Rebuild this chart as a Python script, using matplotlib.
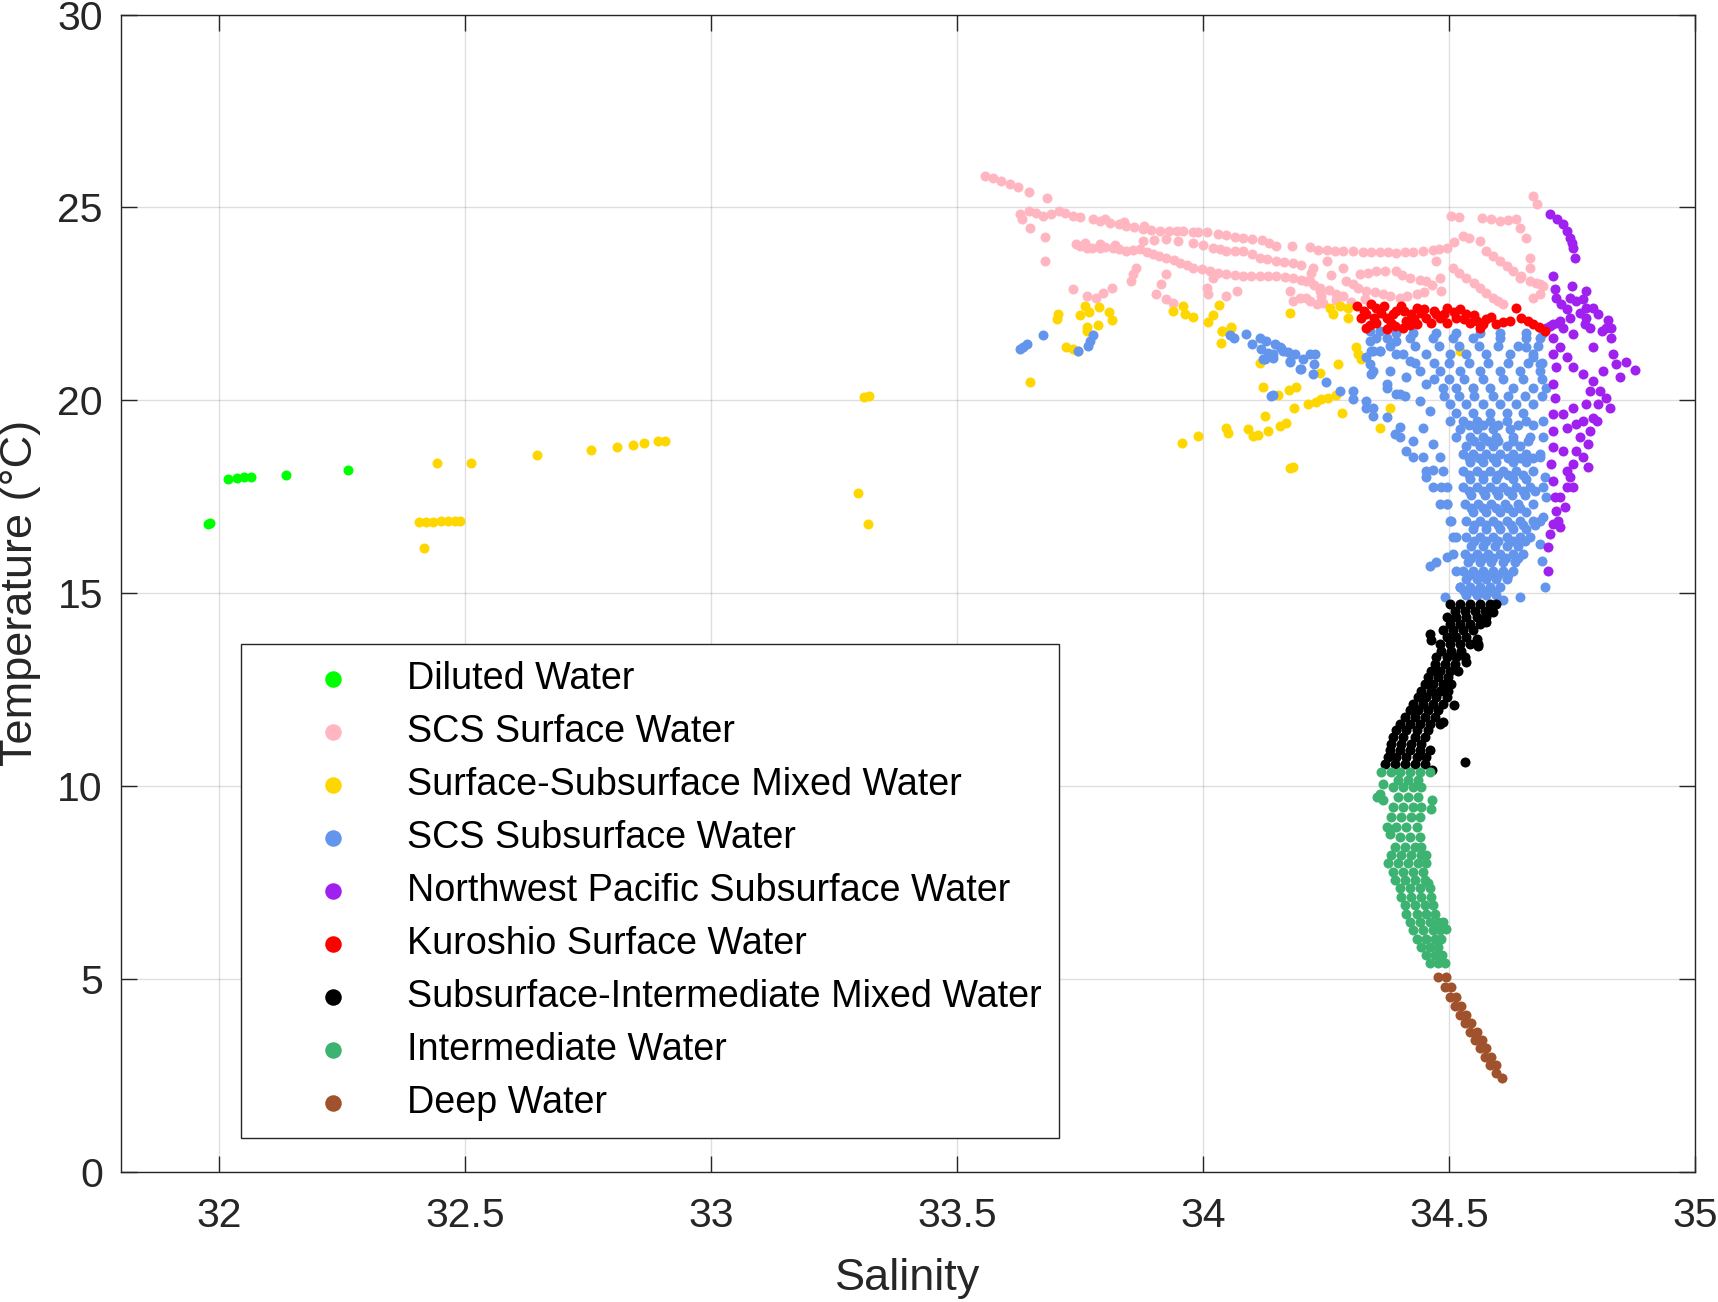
import numpy as np
import matplotlib
matplotlib.use("Agg")
import matplotlib.pyplot as plt

plt.rcParams['font.family'] = ['Liberation Sans', 'DejaVu Sans']

# (salinity, temperature), one list per water mass
diluted = [(31.977, 16.80), (31.982, 16.82), (32.017, 17.97), (32.036, 17.99),
           (32.050, 18.01), (32.064, 18.02), (32.136, 18.07), (32.261, 18.20)]

scs_surface = [
    (33.556, 25.81), (33.573, 25.75), (33.590, 25.68), (33.607, 25.60), (33.624, 25.53),
    (33.646, 25.41), (33.683, 25.25),
    (33.627, 24.82), (33.647, 24.91), (33.675, 24.78), (33.708, 24.91), (33.736, 24.78),
    (33.776, 24.69), (33.810, 24.60), (33.844, 24.52), (33.878, 24.43), (33.912, 24.39),
    (33.946, 24.39), (33.980, 24.37), (34.007, 24.35), (34.047, 24.28), (34.081, 24.20),
    (34.119, 24.15), (34.149, 24.00), (34.217, 23.97),
    (33.660, 24.85), (33.690, 24.84), (33.720, 24.85), (33.750, 24.74), (33.790, 24.66),
    (33.830, 24.56), (33.860, 24.48), (33.895, 24.41), (33.930, 24.40), (33.960, 24.38),
    (33.990, 24.36), (34.030, 24.31), (34.065, 24.24), (34.100, 24.18), (34.135, 24.08),
    (34.180, 24.00), (33.800, 24.70), (33.840, 24.62), (33.880, 24.52),
    (33.631, 24.69), (33.649, 24.47), (33.679, 24.22), (33.679, 23.61),
    (33.742, 24.04), (33.763, 23.96), (33.790, 23.94), (33.817, 23.96), (33.844, 23.87),
    (33.871, 23.91), (33.898, 23.78), (33.925, 23.70), (33.953, 23.57), (33.980, 23.44),
    (34.014, 23.35), (34.047, 23.27), (34.081, 23.22), (34.115, 23.22), (34.149, 23.22),
    (34.183, 23.18), (34.217, 23.09), (34.237, 22.83),
    (33.750, 24.00), (33.775, 23.95), (33.800, 23.97), (33.830, 23.92), (33.857, 23.89),
    (33.885, 23.84), (33.910, 23.74), (33.940, 23.63), (33.967, 23.50), (33.997, 23.40),
    (34.030, 23.31), (34.064, 23.25), (34.098, 23.22), (34.132, 23.22), (34.166, 23.20),
    (34.200, 23.13), (33.760, 24.08), (33.790, 24.05), (33.820, 24.02),
    (33.878, 24.13), (33.925, 24.17), (33.980, 24.09), (34.020, 23.96), (34.047, 23.87),
    (34.081, 23.87), (34.115, 23.70), (34.149, 23.61), (34.183, 23.57), (34.224, 23.44),
    (33.900, 24.15), (33.950, 24.13), (34.000, 24.03), (34.035, 23.92), (34.064, 23.87),
    (34.100, 23.78), (34.130, 23.66), (34.165, 23.59), (34.200, 23.50),
    (33.925, 23.27), (33.915, 23.01), (33.905, 22.75), (33.925, 22.62), (33.939, 22.53),
    (33.864, 23.44), (33.858, 23.27), (33.854, 23.08),
    (33.736, 22.88), (33.763, 22.71), (33.783, 22.66), (33.797, 22.79), (33.814, 22.92),
    (34.007, 22.92), (34.010, 22.75), (34.047, 22.71), (34.068, 22.83), (34.020, 23.18),
    (34.176, 22.83), (34.197, 22.66), (34.217, 22.58), (34.231, 22.49), (34.183, 22.58),
    (34.251, 23.89), (34.284, 23.87), (34.325, 23.85), (34.359, 23.85), (34.393, 23.83),
    (34.427, 23.85), (34.467, 23.89), (34.495, 23.96), (34.528, 24.26), (34.562, 24.13),
    (34.234, 23.90), (34.268, 23.88), (34.305, 23.86), (34.342, 23.85), (34.376, 23.84),
    (34.410, 23.84), (34.447, 23.87), (34.480, 23.92), (34.540, 24.20), (34.510, 24.10),
    (34.505, 24.77), (34.566, 24.73), (34.603, 24.66), (34.637, 24.69), (34.644, 24.47),
    (34.520, 24.75), (34.585, 24.70), (34.620, 24.68),
    (34.657, 24.21), (34.664, 23.70), (34.664, 23.44), (34.671, 25.29), (34.678, 25.08),
    (34.576, 23.87), (34.603, 23.61), (34.630, 23.35), (34.664, 23.09), (34.691, 22.96),
    (34.590, 23.74), (34.617, 23.48), (34.647, 23.22), (34.677, 23.03),
    (34.508, 23.44), (34.535, 23.18), (34.562, 22.92), (34.589, 22.66), (34.610, 22.49),
    (34.520, 23.31), (34.550, 23.05), (34.575, 22.79), (34.600, 22.57),
    (34.481, 23.18), (34.484, 22.83),
    (34.251, 23.61), (34.284, 23.44), (34.318, 23.27), (34.352, 23.35), (34.393, 23.35),
    (34.420, 23.18), (34.454, 23.09), (34.474, 23.61),
    (34.210, 23.09), (34.237, 22.92), (34.271, 22.75), (34.305, 23.01), (34.332, 22.83),
    (34.366, 22.75), (34.400, 22.66), (34.434, 22.75), (34.210, 22.66), (34.244, 22.53),
    (34.225, 23.00), (34.255, 22.85), (34.285, 22.70), (34.315, 22.92), (34.350, 22.80),
    (34.380, 22.70), (34.415, 22.70), (34.450, 22.80), (34.290, 23.10), (34.335, 23.30),
    (34.370, 23.35), (34.405, 23.25), (34.440, 23.12), (34.465, 23.00), (34.240, 22.70),
    (34.270, 22.60), (34.300, 22.55), (34.330, 22.62), (34.220, 23.30), (34.260, 23.25),
    (34.644, 23.18), (34.684, 23.01), (34.671, 22.66), (34.684, 22.75)]

mixed_surface = [
    (32.405, 16.84), (32.420, 16.85), (32.435, 16.85), (32.450, 16.86), (32.465, 16.86),
    (32.480, 16.87), (32.489, 16.87), (32.417, 16.17), (32.442, 18.38), (32.512, 18.38),
    (32.646, 18.59), (32.756, 18.72), (32.809, 18.79), (32.840, 18.83), (32.864, 18.88),
    (32.891, 18.93), (32.907, 18.94), (33.310, 20.08), (33.320, 20.12), (33.299, 17.60),
    (33.318, 16.80),
    (34.257, 22.40), (34.278, 22.45), (34.295, 22.40), (34.264, 22.23), (34.295, 22.14),
    (33.705, 22.23), (33.702, 22.10), (33.749, 22.21), (33.759, 22.45), (33.769, 22.30),
    (33.788, 22.43), (33.808, 22.30), (33.814, 22.08), (33.786, 21.95), (33.763, 21.89),
    (33.763, 21.80), (33.939, 22.32), (33.959, 22.45), (33.963, 22.23), (33.980, 22.16),
    (34.010, 22.02), (34.020, 22.21), (34.033, 22.47), (34.176, 22.27), (34.039, 21.80),
    (34.056, 21.89),
    (33.721, 21.38), (33.736, 21.32), (33.746, 21.28), (33.649, 20.48), (33.958, 18.90),
    (33.990, 19.06), (34.047, 19.29), (34.051, 19.14), (34.092, 19.26), (34.102, 19.07),
    (34.112, 19.10), (34.131, 19.19), (34.156, 19.34), (34.169, 19.40), (34.125, 19.58),
    (34.185, 19.80), (34.214, 19.90), (34.229, 19.96), (34.174, 20.27), (34.188, 20.35),
    (34.122, 20.34), (34.153, 20.13), (34.115, 20.97), (34.037, 21.48), (34.039, 21.79),
    (34.056, 21.88), (34.176, 18.24), (34.183, 18.26),
    (34.311, 21.37), (34.315, 21.20), (34.322, 21.07), (34.274, 20.94), (34.237, 20.70),
    (34.271, 20.14), (34.254, 20.07), (34.240, 20.03), (34.282, 19.67), (34.359, 19.28),
    (34.379, 19.81), (34.522, 21.28), (34.549, 20.33)]

scs_subsurface = [
    (33.627, 21.32), (33.634, 21.38), (33.641, 21.45), (33.674, 21.68), (33.746, 21.28),
    (33.766, 21.41), (33.771, 21.54), (33.776, 21.68),
    (34.054, 21.68), (34.063, 21.62), (34.088, 21.73), (34.099, 21.45), (34.115, 21.62),
    (34.127, 21.54), (34.117, 21.32), (34.132, 21.23), (34.146, 21.45), (34.159, 21.36),
    (34.173, 21.26), (34.186, 21.19), (34.176, 20.98), (34.125, 21.06), (34.142, 21.10),
    (34.203, 21.06), (34.217, 21.19), (34.227, 21.21), (34.200, 20.82), (34.225, 20.95),
    (34.139, 20.11), (34.142, 20.14), (34.122, 21.07), (34.142, 21.20), (34.162, 21.28),
    (34.176, 21.02), (34.156, 21.37),
    (34.196, 20.81), (34.223, 20.68), (34.250, 20.46), (34.278, 20.25), (34.305, 20.03),
    (34.332, 19.81), (34.346, 19.60), (34.305, 20.25), (34.332, 19.99), (34.346, 19.81),
    (34.373, 19.56), (34.400, 19.30), (34.427, 18.95), (34.447, 18.52), (34.468, 18.18),
    (34.484, 17.74), (34.495, 17.31), (34.505, 16.88), (34.515, 16.45),
    (34.390, 19.12), (34.413, 18.69), (34.454, 18.00),
    (34.339, 21.54), (34.346, 21.28), (34.339, 20.94), (34.342, 20.68), (34.359, 21.28),
    (34.393, 21.54), (34.373, 20.42), (34.393, 20.16), (34.410, 20.12),
    (34.332, 21.11), (34.345, 20.76), (34.359, 21.28), (34.379, 20.76), (34.373, 20.33),
    (34.400, 20.16), (34.413, 20.59), (34.393, 21.19), (34.420, 21.02), (34.440, 20.76),
    (34.454, 20.42), (34.440, 19.99), (34.461, 19.73), (34.447, 19.29), (34.467, 18.86),
    (34.481, 18.52), (34.488, 18.17), (34.495, 17.74), (34.495, 17.31), (34.501, 16.88),
    (34.508, 16.45), (34.508, 16.02), (34.515, 15.58), (34.522, 15.15),
    (34.400, 19.04), (34.427, 18.52), (34.454, 18.17), (34.467, 17.74), (34.481, 17.31),
    (34.461, 15.71), (34.474, 15.80), (34.495, 15.93), (34.491, 14.89),
    (34.339, 21.80), (34.352, 21.62), (34.342, 21.28), (34.359, 21.80), (34.393, 21.75),
    (34.427, 21.75), (34.474, 21.75), (34.515, 21.75), (34.562, 21.75), (34.603, 21.75),
    (34.657, 21.75), (34.691, 21.75), (34.657, 21.37), (34.671, 21.11), (34.684, 20.93),
    (34.691, 19.04), (34.684, 18.52), (34.695, 18.00), (34.698, 17.48), (34.691, 16.97),
    (34.373, 21.62), (34.420, 21.62), (34.467, 21.62), (34.508, 21.62), (34.549, 21.62),
    (34.603, 21.62), (34.657, 21.62), (34.684, 21.62),
    (34.380, 21.40), (34.430, 21.40), (34.480, 21.40), (34.520, 21.40), (34.560, 21.40),
    (34.600, 21.40), (34.640, 21.40), (34.680, 21.40),
    (34.406, 21.19), (34.454, 21.19), (34.501, 21.19), (34.535, 21.19), (34.576, 21.19),
    (34.623, 21.19), (34.671, 21.19),
    (34.430, 20.97), (34.470, 20.97), (34.500, 20.97), (34.540, 20.97), (34.580, 20.97),
    (34.620, 20.97), (34.660, 20.97), (34.690, 20.97),
    (34.481, 20.76), (34.522, 20.76), (34.562, 20.76), (34.603, 20.76), (34.644, 20.76),
    (34.684, 20.76),
    (34.470, 20.55), (34.500, 20.55), (34.530, 20.55), (34.570, 20.55), (34.610, 20.55),
    (34.650, 20.55), (34.690, 20.55),
    (34.488, 20.33), (34.515, 20.33), (34.549, 20.33), (34.583, 20.33), (34.630, 20.33),
    (34.671, 20.33), (34.698, 20.33),
    (34.490, 20.12), (34.520, 20.12), (34.550, 20.12), (34.590, 20.12), (34.620, 20.12),
    (34.655, 20.12), (34.690, 20.12),
    (34.501, 19.90), (34.535, 19.90), (34.569, 19.90), (34.603, 19.90), (34.637, 19.90),
    (34.671, 19.90),
    (34.515, 19.68), (34.549, 19.68), (34.583, 19.68), (34.617, 19.68), (34.651, 19.68),
    (34.501, 19.47), (34.528, 19.47), (34.556, 19.47), (34.583, 19.47), (34.617, 19.47),
    (34.657, 19.47), (34.691, 19.47),
    (34.540, 19.36), (34.570, 19.36), (34.600, 19.36), (34.640, 19.36), (34.670, 19.36),
    (34.522, 19.25), (34.556, 19.25), (34.589, 19.25), (34.623, 19.25),
    (34.515, 19.04), (34.542, 19.04), (34.569, 19.04), (34.596, 19.04), (34.630, 19.04),
    (34.664, 19.04),
    (34.550, 18.93), (34.580, 18.93), (34.600, 18.93), (34.630, 18.93), (34.660, 18.93),
    (34.535, 18.82), (34.562, 18.82), (34.589, 18.82), (34.617, 18.82), (34.644, 18.82),
    (34.528, 18.60), (34.549, 18.60), (34.576, 18.60), (34.603, 18.60), (34.630, 18.60),
    (34.657, 18.60), (34.684, 18.60),
    (34.540, 18.50), (34.560, 18.50), (34.590, 18.50), (34.620, 18.50), (34.645, 18.50),
    (34.670, 18.50),
    (34.542, 18.39), (34.569, 18.39), (34.596, 18.39), (34.630, 18.39), (34.657, 18.39),
    (34.528, 18.17), (34.556, 18.17), (34.583, 18.17), (34.610, 18.17), (34.637, 18.17),
    (34.671, 18.17),
    (34.540, 18.07), (34.570, 18.07), (34.600, 18.07), (34.620, 18.07), (34.650, 18.07),
    (34.542, 17.96), (34.569, 17.96), (34.596, 17.96), (34.630, 17.96), (34.657, 17.96),
    (34.528, 17.74), (34.556, 17.74), (34.583, 17.74), (34.610, 17.74), (34.637, 17.74),
    (34.664, 17.74), (34.691, 17.74),
    (34.540, 17.64), (34.570, 17.64), (34.595, 17.64), (34.620, 17.64), (34.650, 17.64),
    (34.675, 17.64),
    (34.545, 17.53), (34.573, 17.53), (34.600, 17.53), (34.627, 17.53), (34.654, 17.53),
    (34.532, 17.31), (34.559, 17.31), (34.586, 17.31), (34.613, 17.31), (34.640, 17.31),
    (34.671, 17.31),
    (34.545, 17.20), (34.570, 17.20), (34.595, 17.20), (34.620, 17.20), (34.645, 17.20),
    (34.549, 17.09), (34.576, 17.09), (34.603, 17.09), (34.630, 17.09), (34.657, 17.09),
    (34.535, 16.88), (34.562, 16.88), (34.589, 16.88), (34.617, 16.88), (34.644, 16.88),
    (34.671, 16.88), (34.684, 16.88),
    (34.550, 16.77), (34.575, 16.77), (34.600, 16.77), (34.625, 16.77), (34.650, 16.77),
    (34.675, 16.77),
    (34.549, 16.66), (34.576, 16.66), (34.603, 16.66), (34.630, 16.66), (34.657, 16.66),
    (34.535, 16.45), (34.562, 16.45), (34.589, 16.45), (34.617, 16.45), (34.644, 16.45),
    (34.664, 16.45),
    (34.550, 16.34), (34.575, 16.34), (34.600, 16.34), (34.630, 16.34), (34.655, 16.34),
    (34.545, 16.23), (34.569, 16.23), (34.593, 16.23), (34.617, 16.23), (34.640, 16.23),
    (34.532, 16.02), (34.556, 16.02), (34.579, 16.02), (34.603, 16.02), (34.630, 16.02),
    (34.651, 16.02),
    (34.545, 15.91), (34.570, 15.91), (34.590, 15.91), (34.615, 15.91), (34.640, 15.91),
    (34.539, 15.80), (34.562, 15.80), (34.586, 15.80), (34.610, 15.80), (34.634, 15.80),
    (34.528, 15.58), (34.549, 15.58), (34.569, 15.58), (34.589, 15.58), (34.610, 15.58),
    (34.630, 15.58),
    (34.540, 15.48), (34.560, 15.48), (34.580, 15.48), (34.600, 15.48), (34.620, 15.48),
    (34.535, 15.37), (34.556, 15.37), (34.576, 15.37), (34.596, 15.37), (34.617, 15.37),
    (34.522, 15.15), (34.542, 15.15), (34.562, 15.15), (34.583, 15.15), (34.603, 15.15),
    (34.530, 15.05), (34.550, 15.05), (34.570, 15.05), (34.590, 15.05),
    (34.535, 14.94), (34.556, 14.94), (34.576, 14.94), (34.596, 14.94),
    (34.688, 15.84), (34.695, 15.15), (34.644, 14.89), (34.610, 14.81), (34.684, 16.28)]

nw_pacific = [
    (34.706, 24.84), (34.720, 24.69), (34.732, 24.56), (34.739, 24.39), (34.745, 24.21),
    (34.749, 24.09), (34.752, 23.96), (34.756, 23.68), (34.712, 23.22),
    (34.715, 22.88), (34.718, 22.66), (34.728, 22.49), (34.739, 22.36),
    (34.749, 22.96), (34.745, 22.66), (34.759, 22.57), (34.773, 22.62), (34.779, 22.83),
    (34.793, 22.40), (34.803, 22.23), (34.823, 22.07), (34.830, 21.88),
    (34.705, 21.93), (34.722, 22.01), (34.732, 21.88), (34.745, 22.14), (34.766, 22.27),
    (34.779, 22.14), (34.786, 21.88), (34.810, 21.80), (34.752, 21.71),
    (34.698, 21.88), (34.712, 21.97), (34.725, 22.06),
    (34.712, 21.62), (34.725, 21.37), (34.739, 21.11), (34.752, 20.85), (34.773, 20.67),
    (34.793, 20.50),
    (34.712, 21.19), (34.718, 20.85), (34.712, 20.42), (34.715, 20.07), (34.712, 19.64),
    (34.712, 19.21), (34.712, 18.78), (34.708, 18.35), (34.712, 17.91), (34.715, 17.48),
    (34.718, 17.14), (34.712, 16.79), (34.705, 16.53), (34.701, 16.19),
    (34.732, 19.64), (34.739, 19.29), (34.752, 19.81), (34.759, 19.38), (34.732, 18.69),
    (34.739, 18.17), (34.752, 17.74), (34.725, 17.48), (34.735, 17.22),
    (34.786, 20.24), (34.779, 19.90), (34.773, 19.47), (34.766, 19.04), (34.759, 18.69),
    (34.752, 18.35), (34.745, 18.00), (34.739, 17.74),
    (34.806, 20.24), (34.803, 19.90), (34.793, 19.55), (34.786, 19.21), (34.783, 18.86),
    (34.773, 18.52), (34.783, 18.26),
    (34.820, 21.88), (34.830, 21.62), (34.833, 21.19), (34.840, 20.93), (34.847, 20.59),
    (34.813, 20.76), (34.793, 21.37), (34.776, 21.97), (34.779, 22.40),
    (34.725, 16.71), (34.722, 16.88), (34.701, 15.58),
    (34.827, 19.81), (34.800, 19.47), (34.820, 20.07), (34.878, 20.79), (34.860, 21.00)]

kuroshio = [
    (34.312, 22.45), (34.332, 22.23), (34.352, 22.40), (34.373, 22.14), (34.393, 22.32),
    (34.413, 22.06), (34.434, 22.40), (34.454, 22.14), (34.474, 22.23), (34.495, 22.40),
    (34.515, 22.14), (34.535, 22.23), (34.556, 22.06), (34.576, 22.10), (34.596, 21.97),
    (34.332, 21.88), (34.373, 21.84), (34.406, 21.88), (34.623, 22.06), (34.637, 22.40),
    (34.647, 22.14), (34.671, 21.97), (34.695, 21.80), (34.352, 22.01), (34.434, 21.97),
    (34.495, 22.01), (34.562, 21.88),
    (34.322, 22.14), (34.342, 22.49), (34.362, 22.27), (34.383, 22.01), (34.403, 22.45),
    (34.423, 22.23), (34.444, 22.27), (34.464, 22.01), (34.481, 22.14), (34.522, 22.36),
    (34.542, 22.01),
    (34.327, 22.32), (34.347, 22.14), (34.367, 22.45), (34.387, 22.23), (34.408, 22.32),
    (34.428, 22.10), (34.449, 22.36), (34.469, 22.32), (34.490, 22.23), (34.510, 22.30),
    (34.530, 22.10), (34.550, 22.20), (34.570, 21.98), (34.585, 22.15), (34.610, 22.02),
    (34.660, 22.05), (34.683, 21.90), (34.340, 21.95), (34.390, 21.92), (34.420, 21.95)]

mixed_intermediate = [
    (34.501, 14.72), (34.522, 14.72), (34.542, 14.72), (34.562, 14.72), (34.583, 14.72),
    (34.512, 14.54), (34.532, 14.54), (34.552, 14.54), (34.573, 14.54),
    (34.495, 14.37), (34.515, 14.37), (34.535, 14.37), (34.556, 14.37), (34.576, 14.37),
    (34.501, 14.20), (34.522, 14.20), (34.542, 14.20), (34.562, 14.20),
    (34.488, 14.03), (34.508, 14.03), (34.529, 14.03), (34.549, 14.03),
    (34.495, 13.85), (34.515, 13.85), (34.535, 13.85),
    (34.481, 13.68), (34.501, 13.68), (34.522, 13.68), (34.542, 13.68), (34.559, 13.68),
    (34.484, 13.51), (34.505, 13.51), (34.525, 13.51),
    (34.474, 13.34), (34.495, 13.34), (34.515, 13.34), (34.532, 13.34),
    (34.471, 13.16), (34.491, 13.16), (34.512, 13.16),
    (34.464, 12.99), (34.481, 12.99), (34.501, 12.99), (34.518, 12.99),
    (34.457, 12.82), (34.478, 12.82), (34.498, 12.82),
    (34.451, 12.65), (34.467, 12.65), (34.488, 12.65), (34.505, 12.65),
    (34.444, 12.47), (34.464, 12.47), (34.481, 12.47), (34.498, 12.47),
    (34.437, 12.30), (34.454, 12.30), (34.474, 12.30), (34.495, 12.30),
    (34.427, 12.13), (34.447, 12.13), (34.467, 12.13), (34.488, 12.13),
    (34.420, 11.96), (34.437, 11.96), (34.457, 11.96), (34.478, 11.96),
    (34.410, 11.78), (34.430, 11.78), (34.451, 11.78), (34.471, 11.78),
    (34.400, 11.61), (34.420, 11.61), (34.440, 11.61), (34.461, 11.61), (34.481, 11.61),
    (34.393, 11.44), (34.413, 11.44), (34.434, 11.44), (34.457, 11.44),
    (34.386, 11.26), (34.406, 11.26), (34.430, 11.26), (34.451, 11.26),
    (34.383, 11.09), (34.403, 11.09), (34.423, 11.09), (34.444, 11.09),
    (34.379, 10.92), (34.400, 10.92), (34.420, 10.92), (34.440, 10.92), (34.461, 10.92),
    (34.376, 10.75), (34.393, 10.75), (34.413, 10.75), (34.434, 10.75), (34.454, 10.75),
    (34.369, 10.57), (34.390, 10.57), (34.410, 10.57), (34.430, 10.57), (34.451, 10.57),
    (34.461, 13.94), (34.464, 13.77), (34.556, 13.81), (34.559, 13.64), (34.535, 13.21),
    (34.510, 12.11), (34.488, 11.65), (34.532, 10.62), (34.466, 10.40), (34.596, 14.72),
    (34.589, 14.50), (34.576, 14.24)]

intermediate = [
    (34.362, 10.36), (34.383, 10.36), (34.400, 10.36), (34.420, 10.36), (34.440, 10.36),
    (34.461, 10.36),
    (34.396, 10.14), (34.417, 10.14), (34.437, 10.14),
    (34.366, 10.06), (34.359, 9.80), (34.353, 9.71), (34.366, 9.63),
    (34.386, 9.97), (34.406, 9.97), (34.427, 9.97), (34.444, 9.97),
    (34.396, 9.71), (34.417, 9.71), (34.437, 9.71),
    (34.386, 9.45), (34.406, 9.45), (34.427, 9.45), (34.444, 9.45),
    (34.466, 9.63), (34.464, 9.41),
    (34.383, 9.19), (34.403, 9.19), (34.423, 9.19), (34.440, 9.19),
    (34.373, 8.93), (34.393, 8.93), (34.413, 8.93), (34.434, 8.93), (34.379, 8.76),
    (34.400, 8.68), (34.420, 8.68), (34.440, 8.68),
    (34.390, 8.42), (34.410, 8.42), (34.430, 8.42), (34.444, 8.42),
    (34.383, 8.20), (34.403, 8.20), (34.423, 8.20), (34.444, 8.20), (34.454, 8.20),
    (34.376, 7.99), (34.396, 7.99), (34.417, 7.99), (34.437, 7.99), (34.454, 7.99),
    (34.386, 7.77), (34.406, 7.77), (34.427, 7.77), (34.447, 7.77),
    (34.390, 7.55), (34.410, 7.55), (34.430, 7.55), (34.451, 7.55), (34.457, 7.47),
    (34.400, 7.34), (34.420, 7.34), (34.440, 7.34), (34.461, 7.34),
    (34.403, 7.12), (34.423, 7.12), (34.444, 7.12), (34.464, 7.12),
    (34.410, 6.91), (34.430, 6.91), (34.451, 6.91), (34.467, 6.91),
    (34.413, 6.69), (34.434, 6.69), (34.454, 6.69), (34.471, 6.69),
    (34.420, 6.48), (34.440, 6.48), (34.461, 6.48), (34.478, 6.48), (34.488, 6.48),
    (34.427, 6.26), (34.447, 6.26), (34.467, 6.26), (34.481, 6.26), (34.493, 6.30),
    (34.434, 6.04), (34.454, 6.04), (34.471, 6.04), (34.484, 6.04),
    (34.444, 5.83), (34.461, 5.83), (34.478, 5.83),
    (34.454, 5.61), (34.471, 5.61), (34.486, 5.61),
    (34.461, 5.40), (34.478, 5.40), (34.491, 5.40)]

deep = [
    (34.478, 5.05), (34.491, 4.79), (34.501, 4.53), (34.512, 4.28), (34.522, 4.06),
    (34.532, 3.84), (34.542, 3.63), (34.552, 3.41), (34.562, 3.20), (34.573, 2.98),
    (34.583, 2.77), (34.596, 2.55), (34.608, 2.42),
    (34.494, 5.05), (34.505, 4.79), (34.515, 4.53), (34.525, 4.28), (34.535, 4.06),
    (34.545, 3.84), (34.556, 3.63), (34.566, 3.41), (34.576, 3.20), (34.586, 2.98),
    (34.595, 2.77)]

labels = ['Diluted Water', 'SCS Surface Water', 'Surface-Subsurface Mixed Water',
          'SCS Subsurface Water', 'Northwest Pacific Subsurface Water',
          'Kuroshio Surface Water', 'Subsurface-Intermediate Mixed Water',
          'Intermediate Water', 'Deep Water']
groups = [diluted, scs_surface, mixed_surface, scs_subsurface, nw_pacific,
          kuroshio, mixed_intermediate, intermediate, deep]
colors = ['#00ff00', '#ffb6c1', '#ffd700', '#6495ed', '#a020f0',
          '#ff0000', '#000000', '#3cb371', '#a0522d']

fig = plt.figure(figsize=(17.18, 13.02), dpi=100)
ax = fig.add_axes([0.0704, 0.1002, 0.9162, 0.8886])

for pts, c, lab in zip(groups, colors, labels):
    arr = np.array(pts)
    ax.scatter(arr[:, 0], arr[:, 1], s=52, color=c, linewidths=0, label=lab)

ax.set_xlim(31.8, 35)
ax.set_ylim(0, 30)
ax.set_xticks([32, 32.5, 33, 33.5, 34, 34.5, 35])
ax.set_xticklabels(['32', '32.5', '33', '33.5', '34', '34.5', '35'])
ax.set_yticks(np.arange(0, 31, 5))
ax.grid(True, color='#262626', alpha=0.15, linewidth=1.0)
ax.set_axisbelow(True)

ax.tick_params(direction='in', length=11.3, width=1.0, colors='#262626',
               labelsize=29.5, top=True, right=True)
ax.tick_params(axis='x', pad=18)
ax.tick_params(axis='y', pad=13)
for sp in ax.spines.values():
    sp.set_color('#262626')
    sp.set_linewidth(1.0)

ax.set_xlabel('Salinity', fontsize=32.5, color='#262626', labelpad=17)
ax.set_ylabel('Temperature (°C)', fontsize=32.5, color='#262626', labelpad=12)

leg = ax.legend(loc='upper left', bbox_to_anchor=(241 / 1718, 1 - 644 / 1302),
                bbox_transform=fig.transFigure, fontsize=27.2, frameon=True,
                fancybox=False, edgecolor='#262626', framealpha=1,
                handlelength=3.95, handletextpad=0.0, borderpad=0.45,
                labelspacing=0.45, markerscale=1.65, borderaxespad=0)
leg.get_frame().set_linewidth(1.0)

fig.savefig('out.png', dpi=100)
